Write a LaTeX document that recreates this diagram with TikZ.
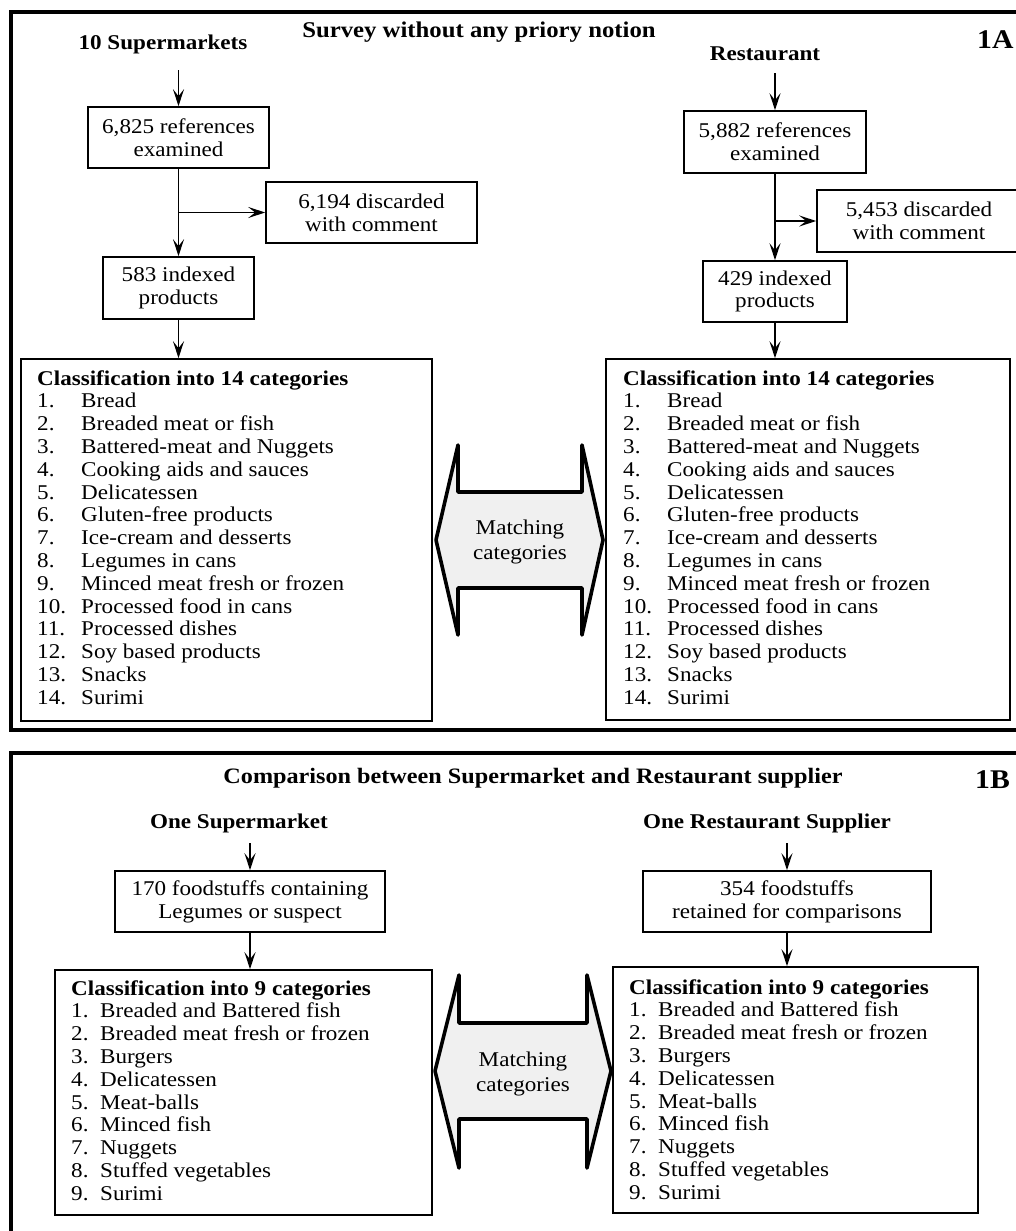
\documentclass[tikz,border=0pt]{standalone}
\usepackage{fontspec}
\setmainfont[FakeStretch=1.1]{Liberation Serif}
\usetikzlibrary{arrows.meta}
\newcommand\myfs{\fontsize{21}{22.8}\selectfont}
\newcommand\myhd{\fontsize{21}{24}\selectfont\bfseries}
\newcommand\myti{\fontsize{22.5}{26}\selectfont\bfseries}
\newcommand\mytiB{\fontsize{22}{26}\selectfont\bfseries}
\newcommand\mytag{\fontsize{27}{30}\selectfont\bfseries}
\newcommand\itemsA{%
1. & Bread\\
2. & Breaded meat or fish\\
3. & Battered-meat and Nuggets\\
4. & Cooking aids and sauces\\
5. & Delicatessen\\
6. & Gluten-free products\\
7. & Ice-cream and desserts\\
8. & Legumes in cans\\
9. & Minced meat fresh or frozen\\
10. & Processed food in cans\\
11. & Processed dishes\\
12. & Soy based products\\
13. & Snacks\\
14. & Surimi}
\newcommand\itemsB{%
1. & Breaded and Battered fish\\
2. & Breaded meat fresh or frozen\\
3. & Burgers\\
4. & Delicatessen\\
5. & Meat-balls\\
6. & Minced fish\\
7. & Nuggets\\
8. & Stuffed vegetables\\
9. & Surimi}
\begin{document}
\begin{tikzpicture}[x=1pt,y=-1pt,
  frame/.style={draw, line width=3.6pt},
  box/.style={draw, line width=1.6pt, inner sep=0pt, align=center, font=\myfs},
  listtext/.style={inner sep=0pt, anchor=base west, font=\myfs},
  hd/.style={inner sep=0pt, font=\myhd, text height=14pt, text depth=4pt},
  ti/.style={inner sep=0pt, font=\myti, text height=15pt, text depth=5pt},
  tag/.style={inner sep=0pt, font=\mytag, anchor=west},
  arr/.style={line width=1.5pt, -{Stealth[length=17pt,width=11pt,inset=7pt]}},
  dbl/.style={draw, line width=3.6pt, line join=round, fill=black!6},
  mt/.style={inner sep=0pt, align=center, font=\fontsize{21}{24.5}\selectfont}]
\useasboundingbox (0,0) rectangle (1016,1231);
\clip (0,0) rectangle (1016,1231);
\fill[white] (0,0) rectangle (1016,1231);

% ---------- 1A ----------
\draw[frame] (11,12) rectangle (1040,730);
\node[ti] (tA) at (479,33) {Survey without any priory notion};
\node[tag] (lA) at (977,40) {1A};
\node[hd] (s1) at (163,45) {10 Supermarkets};
\node[hd] (s2) at (765,55) {Restaurant};

\node[box, minimum width=181pt, minimum height=61pt] (e1) at (178.5,137.5) {6,825 references\\examined};
\node[box, minimum width=211pt, minimum height=61pt] (d1) at (371.5,212.5) {6,194 discarded\\with comment};
\node[box, minimum width=151pt, minimum height=62pt] (i1) at (178.5,288) {583 indexed\\products};
\node[box, minimum width=411pt, minimum height=362pt] (c1) at (226.5,540) {};

\node[box, minimum width=182pt, minimum height=62pt] (e2) at (775,142) {5,882 references\\examined};
\node[box, minimum width=204pt, minimum height=62pt] (d2) at (919,221) {5,453 discarded\\with comment};
\node[box, minimum width=144pt, minimum height=61pt] (i2) at (775,291.5) {429 indexed\\products};
\node[box, minimum width=404pt, minimum height=361pt] (c2) at (808,539.5) {};

\node[listtext] (c1t) at (37,385) {\begin{tabular}[t]{@{}p{44pt}@{}l@{}}\multicolumn{2}{@{}l@{}}{\bfseries Classification into 14 categories}\\ \itemsA\end{tabular}};
\node[listtext] (c2t) at (623,385) {\begin{tabular}[t]{@{}p{44pt}@{}l@{}}\multicolumn{2}{@{}l@{}}{\bfseries Classification into 14 categories}\\ \itemsA\end{tabular}};

\draw[arr, shorten <=16pt] (s1.south -| e1.north) -- (e1.north);
\draw[arr] (e1.south) -- (i1.north);
\draw[arr] (e1.south |- d1.west) -- (d1.west);
\draw[arr] (i1.south) -- (i1.south |- c1.north);

\draw[arr, shorten <=9pt] (s2.south -| e2.north) -- (e2.north);
\draw[arr] (e2.south) -- (i2.north);
\draw[arr] (e2.south |- d2.west) -- (d2.west);
\draw[arr] (i2.south) -- (i2.south |- c2.north);

\draw[dbl] (458,492) -- (458,445) -- (436,540) -- (458,635) -- (458,588)
  -- (582,588) -- (582,635) -- (603,540) -- (582,445) -- (582,492) -- cycle;
\node[mt] (m1) at (520,542) {Matching\\categories};

% ---------- 1B ----------
\draw[frame] (11,753) rectangle (1040,1260);
\node[ti, font=\mytiB] (tB) at (533,778) {Comparison between Supermarket and Restaurant supplier};
\node[tag] (lB) at (975,780) {1B};
\node[hd] (s3) at (239,823) {One Supermarket};
\node[hd] (s4) at (767,823) {One Restaurant Supplier};

\node[box, minimum width=270pt, minimum height=61pt] (f1) at (250,901.5) {170 foodstuffs containing\\Legumes or suspect};
\node[box, minimum width=288pt, minimum height=61pt] (f2) at (787,901.5) {354 foodstuffs\\retained for comparisons};
\node[box, minimum width=377pt, minimum height=245pt] (cc1) at (243.5,1092.5) {};
\node[box, minimum width=365pt, minimum height=246pt] (cc2) at (795.5,1090) {};

\node[listtext] (cc1t) at (71,995) {\begin{tabular}[t]{@{}p{29pt}@{}l@{}}\multicolumn{2}{@{}l@{}}{\bfseries Classification into 9 categories}\\ \itemsB\end{tabular}};
\node[listtext] (cc2t) at (629,994) {\begin{tabular}[t]{@{}p{29pt}@{}l@{}}\multicolumn{2}{@{}l@{}}{\bfseries Classification into 9 categories}\\ \itemsB\end{tabular}};

\draw[arr, line width=1.8pt, shorten <=11pt] (s3.south -| f1.north) -- (f1.north);
\draw[arr, line width=1.8pt] (f1.south) -- (f1.south |- cc1.north);
\draw[arr, line width=1.8pt, shorten <=11pt] (s4.south -| f2.north) -- (f2.north);
\draw[arr, line width=1.8pt] (f2.south) -- (f2.south |- cc2.north);

\draw[dbl] (459,1023) -- (459,975) -- (435,1071) -- (459,1168) -- (459,1119)
  -- (587,1119) -- (587,1168) -- (611,1071) -- (587,975) -- (587,1023) -- cycle;
\node[mt] (m2) at (523,1074) {Matching\\categories};
\end{tikzpicture}
\end{document}
